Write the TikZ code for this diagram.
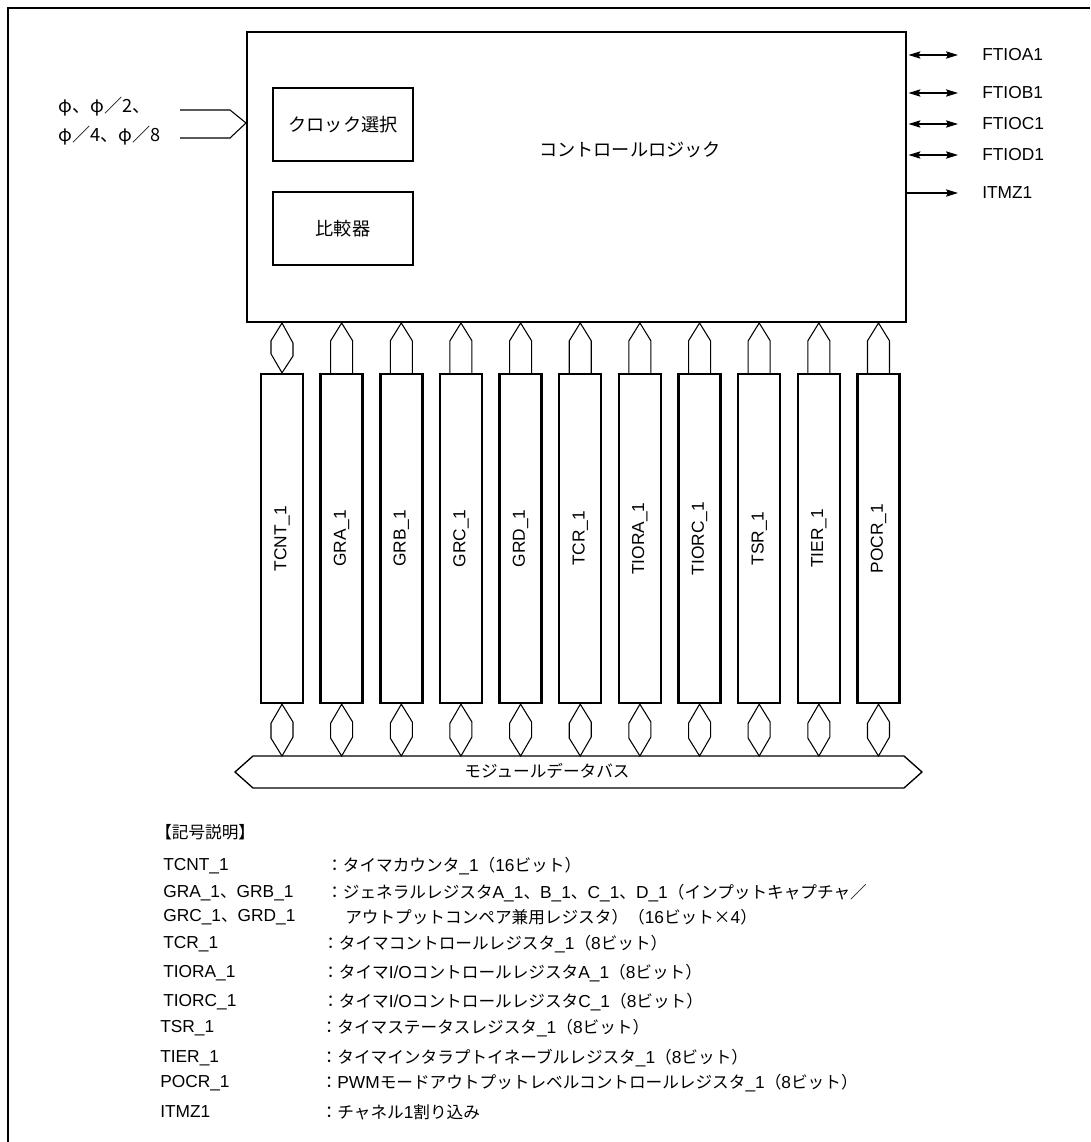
\documentclass[tikz,border=0pt]{standalone}
\usepackage{fontspec}
\setmainfont{Liberation Sans}
\newfontfamily\jpf{Noto Sans CJK JP}[Scale=0.96]
\usetikzlibrary{arrows.meta,calc}
\newcommand{\J}[1]{{\jpf #1}}
\begin{document}
\begin{tikzpicture}[x=0.75pt,y=-0.75pt,
  every node/.style={font=\fontsize{13pt}{15pt}\selectfont},
  big/.style={font=\fontsize{14.2pt}{16pt}\selectfont},
  mainbox/.style={draw,line width=1.5pt,inner sep=0pt},
  subbox/.style={draw,line width=1.2pt,inner sep=0pt,minimum width=105pt,minimum height=54.75pt},
  regbox/.style={draw,line width=1.8pt,inner sep=0pt,minimum width=31.5pt,minimum height=246.75pt},
  conn/.style={draw,line width=0.8pt,line join=miter},
  busline/.style={draw,line width=1pt},
  thinline/.style={draw,line width=0.8pt},
  barr/.style={line width=0.8pt,{Stealth[length=9pt,width=5.5pt,inset=1.5pt]}-{Stealth[length=9pt,width=5.5pt,inset=1.5pt]}},
  sarr/.style={line width=0.8pt,-{Stealth[length=9pt,width=5.5pt,inset=1.5pt]}},
  lab/.style={anchor=west,inner sep=0pt},
  leg/.style={anchor=west,inner sep=0pt}]
\useasboundingbox (0,0) rectangle (1090,1142);
\draw[line width=1.6pt] (8,1142) -- (8,8) -- (1090,8);

% main control logic
\node[mainbox,minimum width=494.25pt,minimum height=217.5pt] (main) at (576.5,177) {};
\node[big] (cl) at (630,150) {\J{コントロールロジック}};
\node[subbox,big] (clk) at (343,124.5) {\J{クロック選択}};
\node[subbox,big] (cmp) at (343,228.5) {\J{比較器}};

% clock inputs
\node[lab,big] (ph1) at (58,107) {\J{φ、φ／2、}};
\node[lab,big] (ph2) at (58,136) {\J{φ／4、φ／8}};
\coordinate (iny) at (0,123);
\coordinate (s1) at (180,110);
\coordinate (s2) at (180,138);
\draw[thinline] (s1) -- (230,110) -- (main.west |- iny);
\draw[thinline] (s2) -- (230,138) -- (main.west |- iny);

% right side signals
\node[lab] (o1) at (982,55) {FTIOA1};
\node[lab] (o2) at (982,93) {FTIOB1};
\node[lab] (o3) at (982,124) {FTIOC1};
\node[lab] (o4) at (982,155) {FTIOD1};
\node[lab] (o5) at (982,193) {ITMZ1};
\foreach \k in {1,2,3,4}{
  \draw[barr,shorten <=1.1pt,shorten >=18pt] (main.east |- o\k.west) -- (o\k.west);
}
\draw[sarr,shorten >=18pt] (main.east |- o5.west) -- (o5.west);

% registers
\foreach \i/\t in {0/TCNT\_1,1/GRA\_1,2/GRB\_1,3/GRC\_1,4/GRD\_1,5/TCR\_1,6/TIORA\_1,7/TIORC\_1,8/TSR\_1,9/TIER\_1,10/POCR\_1}{
  \node[regbox] (r\i) at ({282+59.65*\i},538.5) {\rotatebox{90}{\t}};
}

% bus
\coordinate (bt) at (578,756);
\coordinate (b1) at (253,756);
\coordinate (b2) at (904,756);
\coordinate (b3) at (922,772);
\coordinate (b4) at (904,788);
\coordinate (b5) at (253,788);
\coordinate (b6) at (235,772);
\draw[busline] (b1) -- (b2) -- (b3) -- (b4) -- (b5) -- (b6) -- cycle;
\node (bus) at (547,771) {\J{モジュールデータバス}};

% top connectors
\draw[conn] (r0.north) -- ++(-11,-19) -- ++(0,-13) -- (r0.north |- main.south) -- ++(11,20) -- ++(0,13) -- cycle;
\foreach \i in {1,...,10}{
  \draw[conn] ($(r\i.north)+(-11,0)$) -- ++(0,-32) -- (r\i.north |- main.south) -- ($(r\i.north)+(11,-32)$) -- ++(0,32);
}
% bottom connectors
\foreach \i in {0,...,10}{
  \draw[conn] (r\i.south) -- ++(-11,19) -- ++(0,15) -- (r\i.south |- bt) -- ++(11,-19) -- ++(0,-15) -- cycle;
}

% legend
\node[leg] (lt) at (155,832) {\J{【記号説明】}};
\node[leg] (k1) at (163,866) {TCNT\_1};
\node[leg] (d1) at (326,866) {\J{：タイマカウンタ}\_1\J{（}16\J{ビット）}};
\node[leg] (k2) at (163,893) {GRA\_1\J{、}GRB\_1};
\node[leg] (d2) at (326,893) {\J{：ジェネラルレジスタ}A\_1\J{、}B\_1\J{、}C\_1\J{、}D\_1\J{（インプットキャプチャ／}};
\node[leg] (k3) at (163,917) {GRC\_1\J{、}GRD\_1};
\node[leg] (d3) at (345,917) {\J{アウトプットコンペア兼用レジスタ）（}16\J{ビット×}4\J{）}};
\node[leg] (k4) at (163,944) {TCR\_1};
\node[leg] (d4) at (322,944) {\J{：タイマコントロールレジスタ}\_1\J{（}8\J{ビット）}};
\node[leg] (k5) at (163,973) {TIORA\_1};
\node[leg] (d5) at (322,973) {\J{：タイマ}I/O\J{コントロールレジスタ}A\_1\J{（}8\J{ビット）}};
\node[leg] (k6) at (163,1002) {TIORC\_1};
\node[leg] (d6) at (322,1002) {\J{：タイマ}I/O\J{コントロールレジスタ}C\_1\J{（}8\J{ビット）}};
\node[leg] (k7) at (160,1028) {TSR\_1};
\node[leg] (d7) at (320.5,1028) {\J{：タイマステータスレジスタ}\_1\J{（}8\J{ビット）}};
\node[leg] (k8) at (160,1058) {TIER\_1};
\node[leg] (d8) at (320.5,1058) {\J{：タイマインタラプトイネーブルレジスタ}\_1\J{（}8\J{ビット）}};
\node[leg] (k9) at (160,1083) {POCR\_1};
\node[leg] (d9) at (320.5,1083) {\J{：}PWM\J{モードアウトプットレベルコントロールレジスタ}\_1\J{（}8\J{ビット）}};
\node[leg] (k10) at (160,1112) {ITMZ1};
\node[leg] (d10) at (320.5,1112) {\J{：チャネル}1\J{割り込み}};
\end{tikzpicture}
\end{document}
